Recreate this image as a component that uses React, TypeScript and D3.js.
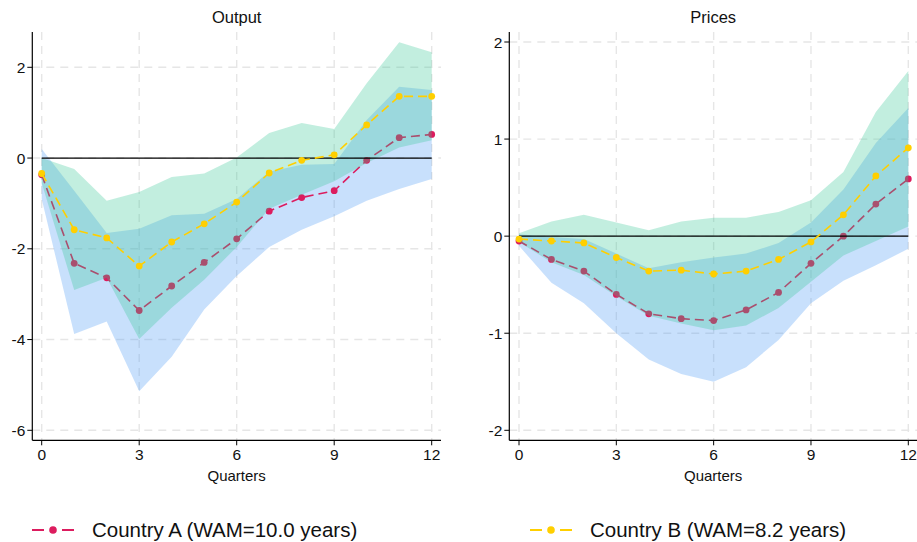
import React from "react";
import * as d3 from "d3";

// quarters on the horizon
const quarters = [0, 1, 2, 3, 4, 5, 6, 7, 8, 9, 10, 11, 12];
const xTicks = [0, 3, 6, 9, 12];

// Output panel
const outputA = [-0.37, -2.32, -2.64, -3.36, -2.82, -2.3, -1.78, -1.17, -0.87, -0.72, -0.05, 0.45, 0.52];
const outputALo = [-0.9, -3.88, -3.6, -5.14, -4.38, -3.34, -2.6, -1.96, -1.58, -1.28, -0.94, -0.68, -0.46];
const outputAHi = [0.2, -0.72, -1.65, -1.56, -1.26, -1.23, -0.9, -0.3, -0.15, -0.13, 0.84, 1.57, 1.5];
const outputB = [-0.34, -1.58, -1.76, -2.38, -1.85, -1.45, -0.97, -0.33, -0.05, 0.07, 0.73, 1.36, 1.36];
const outputBLo = [-0.55, -2.91, -2.64, -3.99, -3.3, -2.68, -1.96, -1.12, -0.81, -0.51, -0.11, 0.23, 0.39];
const outputBHi = [0.0, -0.24, -0.94, -0.75, -0.42, -0.34, 0.01, 0.55, 0.77, 0.64, 1.65, 2.55, 2.33];
const outputTicks = [-6, -4, -2, 0, 2];

// Prices panel
const pricesA = [-0.05, -0.24, -0.36, -0.6, -0.8, -0.85, -0.87, -0.76, -0.58, -0.28, 0.0, 0.33, 0.59];
const pricesALo = [-0.1, -0.48, -0.69, -1.0, -1.27, -1.42, -1.5, -1.35, -1.07, -0.69, -0.46, -0.3, -0.13];
const pricesAHi = [0.02, -0.01, -0.03, -0.18, -0.33, -0.27, -0.22, -0.18, -0.07, 0.14, 0.48, 0.96, 1.32];
const pricesB = [-0.03, -0.05, -0.07, -0.22, -0.36, -0.35, -0.39, -0.36, -0.24, -0.06, 0.22, 0.62, 0.91];
const pricesBLo = [-0.06, -0.27, -0.4, -0.62, -0.82, -0.9, -0.97, -0.92, -0.74, -0.47, -0.2, -0.05, 0.1];
const pricesBHi = [0.03, 0.15, 0.22, 0.14, 0.06, 0.15, 0.19, 0.19, 0.25, 0.37, 0.66, 1.28, 1.7];
const pricesTicks = [-2, -1, 0, 1, 2];

const seriesNames = ["Country A (WAM=10.0 years)", "Country B (WAM=8.2 years)"];

const colA = "#dc1c5e";
const colB = "#ffcf00";
const bandA = "rgb(72,152,245)";
const bandB = "rgb(52,198,148)";
const font = "'Liberation Sans', Arial, sans-serif";

type PanelProps = {
  title: string;
  x0: number; x1: number; // axis extent
  xq0: number; xq12: number; // positions of quarter 0 and 12
  yTop: number; yBottom: number;
  yDom: [number, number]; yRange: [number, number];
  ticks: number[];
  a: number[]; aLo: number[]; aHi: number[];
  b: number[]; bLo: number[]; bHi: number[];
};

function Panel(p: PanelProps) {
  const x = d3.scaleLinear().domain([0, 12]).range([p.xq0, p.xq12]);
  const y = d3.scaleLinear().domain(p.yDom).range(p.yRange);
  const area = (lo: number[], hi: number[]) =>
    d3.area<number>().x((d) => x(d)).y0((d, i) => y(lo[i])).y1((d, i) => y(hi[i]))(quarters) || "";
  const line = (v: number[]) => d3.line<number>().x((d) => x(d)).y((d, i) => y(v[i]))(quarters) || "";
  const grid = "#e6e6e6";
  return (
    <g>
      <text x={(p.x0 + p.x1) / 2} y={23} textAnchor="middle" fontSize={16.5} fontFamily={font} fill="#111">
        {p.title}
      </text>
      {xTicks.map((t) => (
        <line key={"gx" + t} x1={x(t)} x2={x(t)} y1={p.yTop} y2={p.yBottom} stroke={grid} strokeWidth={1.4} strokeDasharray="8,6" />
      ))}
      {p.ticks.map((t) => (
        <line key={"gy" + t} x1={p.x0} x2={p.x1} y1={y(t)} y2={y(t)} stroke={grid} strokeWidth={1.4} strokeDasharray="8,6" />
      ))}
      <path d={area(p.aLo, p.aHi)} fill={bandA} fillOpacity={0.3} />
      <path d={line(p.a)} fill="none" stroke={colA} strokeWidth={1.6} strokeDasharray="9,5" />
      {quarters.map((q, i) => (
        <circle key={"ma" + q} cx={x(q)} cy={y(p.a[i])} r={3.4} fill={colA} />
      ))}
      <path d={area(p.bLo, p.bHi)} fill={bandB} fillOpacity={0.3} />
      <line x1={x(0)} x2={x(12)} y1={y(0)} y2={y(0)} stroke="#000" strokeWidth={1.3} />
      <path d={line(p.b)} fill="none" stroke={colB} strokeWidth={1.6} strokeDasharray="9,5" />
      {quarters.map((q, i) => (
        <circle key={"mb" + q} cx={x(q)} cy={y(p.b[i])} r={3.4} fill={colB} />
      ))}
      {/* axes */}
      <line x1={p.x0} x2={p.x0} y1={p.yTop} y2={p.yBottom} stroke="#000" strokeWidth={1.2} />
      <line x1={p.x0} x2={p.x1} y1={p.yBottom} y2={p.yBottom} stroke="#000" strokeWidth={1.2} />
      {p.ticks.map((t) => (
        <g key={"ty" + t}>
          <line x1={p.x0 - 5} x2={p.x0} y1={y(t)} y2={y(t)} stroke="#000" strokeWidth={1} />
          <text x={p.x0 - 7} y={y(t)} dy="0.36em" textAnchor="end" fontSize={15.5} fontFamily={font} fill="#111">
            {t}
          </text>
        </g>
      ))}
      {xTicks.map((t) => (
        <g key={"tx" + t}>
          <line x1={x(t)} x2={x(t)} y1={p.yBottom} y2={p.yBottom + 5} stroke="#000" strokeWidth={1} />
          <text x={x(t)} y={p.yBottom + 20} textAnchor="middle" fontSize={15.5} fontFamily={font} fill="#111">
            {t}
          </text>
        </g>
      ))}
      <text x={(p.x0 + p.x1) / 2} y={p.yBottom + 41} textAnchor="middle" fontSize={15} fontFamily={font} fill="#111">
        Quarters
      </text>
    </g>
  );
}

function LegendItem({ x, color, label }: { x: number; color: string; label: string }) {
  const yy = 530;
  return (
    <g>
      <line x1={x} x2={x + 42} y1={yy} y2={yy} stroke={color} strokeWidth={2} strokeDasharray="12,18" />
      <circle cx={x + 21} cy={yy} r={3.8} fill={color} />
      <text x={x + 60} y={yy} dy="0.36em" fontSize={20.5} fontFamily={font} fill="#111">
        {label}
      </text>
    </g>
  );
}

export default function App() {
  return (
    <svg width={917} height={542} style={{ position: "absolute", left: 0, top: 0, background: "#fff" }}>
      <rect width={917} height={542} fill="#fff" />
      <Panel
        title="Output"
        x0={32.3} x1={441} xq0={41.7} xq12={431.7}
        yTop={32} yBottom={440.3}
        yDom={[-6, 2]} yRange={[430.3, 67.3]}
        ticks={outputTicks}
        a={outputA} aLo={outputALo} aHi={outputAHi}
        b={outputB} bLo={outputBLo} bHi={outputBHi}
      />
      <Panel
        title="Prices"
        x0={509.3} x1={917} xq0={519} xq12={908.3}
        yTop={32} yBottom={440.3}
        yDom={[-2, 2]} yRange={[430.3, 42]}
        ticks={pricesTicks}
        a={pricesA} aLo={pricesALo} aHi={pricesAHi}
        b={pricesB} bLo={pricesBLo} bHi={pricesBHi}
      />
      <LegendItem x={32} color={colA} label={seriesNames[0]} />
      <LegendItem x={530} color={colB} label={seriesNames[1]} />
    </svg>
  );
}
